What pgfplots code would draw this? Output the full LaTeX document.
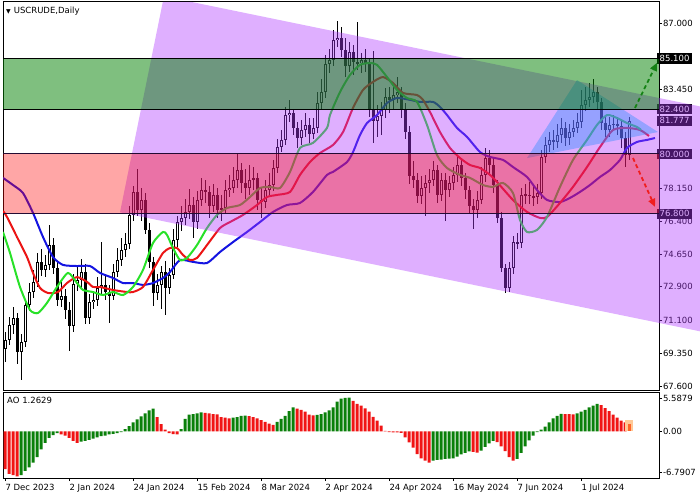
\documentclass[border=0pt]{standalone}
\usepackage{fontspec}
\setmainfont{DejaVu Sans}
\usepackage{pgfplots}
\usepackage{pgfplotstable}
\pgfplotsset{compat=1.18}
\usetikzlibrary{arrows.meta}
\definecolor{chan}{RGB}{175,55,255}
\definecolor{tri}{RGB}{40,140,255}
\definecolor{gbox}{RGB}{0,128,0}
\definecolor{rbox}{RGB}{255,0,0}
\definecolor{jawc}{RGB}{20,20,225}
\definecolor{teethc}{RGB}{235,20,20}
\definecolor{lipsc}{RGB}{40,225,40}
\definecolor{aogreen}{RGB}{10,128,10}
\definecolor{aored}{RGB}{240,20,20}
\definecolor{aoorange}{RGB}{255,100,40}
\definecolor{aohalo}{RGB}{255,200,150}
\definecolor{garrow}{RGB}{20,130,20}
\definecolor{rarrow}{RGB}{240,30,30}

\pgfplotstableread{
i o h l c
0 69.60 70.50 68.90 70.06
1 70.06 71.30 69.80 70.86
2 70.86 71.80 70.40 71.23
3 71.23 71.50 68.80 69.41
4 69.41 70.40 67.90 69.95
5 69.95 72.20 69.70 71.93
6 71.93 73.10 71.60 72.62
7 72.62 73.80 72.30 73.16
8 73.16 74.70 72.90 74.23
9 74.23 74.90 73.50 73.80
10 73.80 74.60 73.40 74.07
11 74.07 76.20 73.80 75.13
12 75.13 75.50 73.60 73.91
13 73.91 74.20 71.90 72.20
14 72.20 73.30 71.80 72.41
15 72.41 72.80 71.20 71.66
16 71.66 72.10 69.45 70.81
17 70.81 73.60 70.50 73.05
18 73.05 74.00 72.70 73.26
19 73.26 74.40 72.80 73.69
20 73.69 74.10 70.90 71.23
21 71.23 72.50 70.90 72.09
22 72.09 72.70 71.70 72.20
23 72.20 73.40 71.90 72.84
24 72.84 75.30 72.50 73.00
25 73.00 73.50 72.20 72.62
26 72.62 73.00 70.95 72.41
27 72.41 74.10 72.20 73.69
28 73.69 75.00 73.40 74.33
29 74.33 75.50 74.00 74.87
30 74.87 75.80 74.50 75.19
31 75.19 77.20 74.90 76.74
32 76.74 78.30 76.40 77.97
33 77.97 79.20 76.70 77.01
34 77.01 78.20 76.40 77.54
35 77.54 77.90 75.70 75.94
36 75.94 76.30 73.90 74.23
37 74.23 74.50 71.90 72.57
38 72.57 73.60 72.20 73.00
39 73.00 74.00 71.70 73.69
40 73.69 74.30 71.40 72.84
41 72.84 73.90 72.50 73.53
42 73.53 76.00 73.30 75.40
43 75.40 76.70 75.00 76.36
44 76.36 77.20 75.90 76.58
45 76.58 77.60 76.20 76.90
46 76.90 78.10 76.50 77.27
47 77.27 77.70 75.50 76.36
48 76.36 78.00 76.00 77.54
49 77.54 78.70 77.20 78.07
50 78.07 78.60 77.40 77.97
51 77.97 78.30 76.60 77.22
52 77.22 78.40 76.90 77.81
53 77.81 78.20 76.60 77.01
54 77.01 77.80 76.40 77.11
55 77.11 78.60 76.80 78.07
56 78.07 78.90 77.70 78.18
57 78.18 79.30 77.90 78.61
58 78.61 80.00 78.20 79.14
59 79.14 79.50 77.90 78.45
60 78.45 79.20 77.60 78.18
61 78.18 79.40 77.80 78.61
62 78.61 79.30 78.10 78.71
63 78.71 79.00 77.00 77.54
64 77.54 78.20 76.60 77.43
65 77.43 78.60 77.10 78.07
66 78.07 79.00 77.80 78.34
67 78.34 79.70 78.00 79.25
68 79.25 80.80 79.00 80.37
69 80.37 81.30 80.10 80.75
70 80.75 82.50 80.50 82.08
71 82.08 82.90 81.70 82.19
72 82.19 82.40 81.00 81.39
73 81.39 81.70 80.30 80.85
74 80.85 81.80 80.50 81.28
75 81.28 82.20 80.90 81.55
76 81.55 81.90 80.60 81.07
77 81.07 81.90 80.80 81.39
78 81.39 83.30 81.10 82.72
79 82.72 84.00 82.40 83.31
80 83.31 85.30 83.00 84.81
81 84.81 85.60 84.30 85.02
82 85.02 86.60 84.70 86.09
83 86.09 87.10 85.70 86.20
84 86.20 86.80 85.20 85.56
85 85.56 86.20 84.10 84.70
86 84.70 86.00 84.40 85.45
87 85.45 85.80 84.20 84.91
88 84.91 87.05 84.50 84.86
89 84.86 85.40 84.30 85.02
90 85.02 85.60 84.40 84.81
91 84.81 85.10 82.00 82.35
92 82.35 85.50 80.60 81.76
93 81.76 82.60 80.90 82.03
94 82.03 82.80 81.00 82.35
95 82.35 83.50 81.90 83.04
96 83.04 83.60 82.20 82.89
97 82.89 83.70 82.40 83.15
98 83.15 84.10 82.70 83.31
99 83.31 83.60 81.90 82.35
100 82.35 82.70 80.80 81.17
101 81.17 81.50 78.40 78.82
102 78.82 79.60 78.20 78.61
103 78.61 79.00 77.40 77.75
104 77.75 78.80 77.30 78.18
105 78.18 78.90 76.70 78.45
106 78.45 79.20 77.90 78.61
107 78.61 79.60 78.30 79.14
108 79.14 79.40 77.40 77.81
109 77.81 79.00 77.50 78.61
110 78.61 79.00 76.40 78.07
111 78.07 78.80 77.70 78.45
112 78.45 79.30 78.10 78.88
113 78.88 79.90 78.50 79.41
114 79.41 79.70 78.30 78.71
115 78.71 79.00 77.60 78.07
116 78.07 78.30 76.80 77.22
117 77.22 77.60 76.00 77.01
118 77.01 78.00 76.60 77.54
119 77.54 79.30 77.30 78.88
120 78.88 80.30 78.50 79.78
121 79.78 80.20 78.90 79.41
122 79.41 79.80 77.90 78.34
123 78.34 78.60 76.30 76.58
124 76.58 76.90 73.70 73.91
125 73.91 74.10 72.57 72.84
126 72.84 74.20 72.60 73.91
127 73.91 75.60 73.60 75.29
128 75.29 75.80 74.90 75.24
129 75.24 78.20 75.00 77.81
130 77.81 78.40 77.30 77.81
131 77.81 78.50 77.30 77.75
132 77.75 78.30 77.20 77.70
133 77.70 78.40 77.30 77.91
134 77.91 80.20 77.60 79.84
135 79.84 80.90 79.50 80.48
136 80.48 81.20 80.10 80.75
137 80.75 81.30 80.20 80.64
138 80.64 81.60 80.30 81.01
139 81.01 81.90 80.60 81.39
140 81.39 81.70 80.40 80.85
141 80.85 81.60 80.50 81.17
142 81.17 81.80 80.90 81.39
143 81.39 82.20 81.10 81.71
144 81.71 83.40 81.40 82.62
145 82.62 83.60 82.30 82.89
146 82.89 83.80 82.50 83.04
147 83.04 84.00 82.70 83.31
148 83.31 83.60 82.40 82.78
149 82.78 83.00 81.30 81.65
150 81.65 82.00 80.90 81.28
151 81.28 82.00 80.90 81.55
152 81.55 82.10 81.20 81.60
153 81.60 82.00 81.00 81.49
154 81.49 81.80 80.30 80.85
155 80.85 81.20 79.30 79.94
156 79.94 82.00 79.70 81.78
}\candles

\pgfplotstableread{
i v
-0.5 78.72
2 78.34
4.5 77.91
7 76.85
9.5 75.56
12 74.49
14.5 74.07
18 74.01
21.25 74.01
23.75 73.64
27 73.37
29.5 73.10
32 73.10
34.5 73.00
37 73.10
39.5 73.37
41.25 73.69
43.75 74.33
47 74.23
50.5 74.17
53.75 74.76
57 75.29
60.5 75.83
63.75 76.36
67 76.90
70.5 77.27
73.75 77.38
77 77.97
80.5 78.88
82 79.04
85.5 79.57
87 80.10
88.75 81.01
90.5 81.65
93 82.08
95.5 82.72
98 82.99
101.25 82.89
103.75 82.78
107 82.78
108.75 82.51
110.5 82.08
113 81.39
115.5 80.91
118.75 80.10
121.25 79.84
124.5 79.68
127 79.30
130.5 78.77
133 78.07
135.5 77.54
138.75 77.43
141.25 77.65
143.75 77.97
146.25 78.34
148.75 78.77
151.25 79.14
153.75 79.68
155.5 80.32
158 80.64
160.5 80.75
162.5 80.85
}\jaw

\pgfplotstableread{
i v
-0.5 76.95
0.5 76.63
3 75.56
5.5 74.49
7 73.64
8.75 72.84
10.75 72.57
13.25 72.62
15.5 73.10
18 73.42
20.5 73.16
22 72.89
23.75 72.89
27 72.73
30.5 72.62
32 72.62
34.5 72.89
37 73.80
39.5 74.71
41.25 74.97
43 74.97
44.5 74.60
46.25 74.33
48 74.44
50.5 75.13
53.75 76.04
56.25 76.36
59.5 76.74
63 77.27
65.5 77.70
68 77.81
71.25 77.97
73.75 78.88
76.25 79.57
78.75 80.05
82 80.48
84.5 81.17
87 82.46
89.5 83.42
92 83.85
94.5 84.11
97 83.79
99.5 83.26
103 83.15
104.5 82.89
106.25 82.24
108.75 81.17
111.25 80.32
113.75 79.78
116.25 79.41
118.75 79.25
121.25 78.88
123 78.50
127 77.54
130.5 76.90
133.75 76.58
135.5 76.63
138.75 77.38
142 78.24
145.5 79.30
148.75 80.37
152 81.28
155.5 81.39
158.75 81.28
161 80.96
}\teeth

\pgfplotstableread{
i v
-0.5 75.83
1.25 74.71
3.75 72.89
6.25 71.66
8.25 71.50
10.5 72.04
13 72.89
15.75 73.64
18 73.10
19.5 72.73
22 72.62
24.5 72.46
27 72.62
29.5 72.46
32 72.89
34.5 73.80
37 75.24
39.5 75.83
40.5 75.67
42 74.97
43.75 74.33
45.5 74.44
48 75.13
50.5 76.04
53 76.74
55.5 77.11
58.75 77.27
61.25 77.70
63.75 78.18
66.25 78.24
68.75 78.18
71.25 79.04
73.75 80.32
77 80.59
80.5 81.39
81.25 82.08
83.75 83.31
86.25 84.22
88.75 84.76
91.25 84.86
93 84.76
95.5 84.11
98 83.42
100.5 82.99
103 82.78
105.5 81.55
108 79.94
110.5 79.25
113.75 78.88
116.25 78.72
119.5 78.34
122 78.24
124.5 78.45
127 77.91
128.75 76.47
130.5 75.83
133 75.94
135.5 76.63
138.75 78.24
142 79.68
145.5 80.75
148 81.55
150.5 82.08
153 81.92
155.5 81.65
158 81.44
159 81.28
}\lips

\pgfplotstableread{
i v
4 -7.3
5 -6.6
6 -6.0
7 -5.2
8 -4.3
9 -3.0
10 -1.9
11 -1.1
12 -0.6
13 -0.3
19 -1.7
20 -1.6
21 -1.4
22 -1.2
23 -1.0
24 -0.8
25 -0.7
26 -0.5
27 -0.4
28 -0.3
29 -0.1
30 0.4
31 0.9
32 1.5
33 2.0
34 2.5
35 3.0
36 3.5
37 3.8
44 0.4
45 2.1
46 2.8
47 2.9
48 3.0
49 3.2
57 2.3
58 2.4
59 2.6
60 2.65
68 1.6
69 2.1
70 2.6
71 3.4
72 4.0
78 2.75
79 2.9
80 3.2
81 3.5
82 4.0
83 5.0
84 5.5
85 5.6
86 5.65
107 -4.9
108 -4.75
109 -4.7
110 -4.6
111 -4.55
112 -4.5
113 -4.2
114 -3.85
115 -3.6
116 -3.35
119 -3.2
120 -2.6
121 -2.0
122 -1.6
128 -4.6
129 -3.6
130 -2.5
131 -1.5
132 -0.7
133 -0.1
134 0.3
135 0.8
136 1.5
137 2.2
138 2.6
139 2.95
143 3.0
144 3.3
145 3.6
146 4.0
147 4.3
148 4.6
}\aog

\pgfplotstableread{
i v
0 -6.3
1 -7.1
2 -7.3
3 -7.5
14 -0.5
15 -0.7
16 -1.1
17 -1.6
18 -1.9
38 2.4
39 1.2
40 0.3
41 -0.3
42 -0.45
43 -0.5
50 3.1
51 3.0
52 2.9
53 2.85
54 2.4
55 2.3
56 2.2
61 2.55
62 2.4
63 2.2
64 1.9
65 1.6
66 1.3
67 1.1
73 3.8
74 3.6
75 3.3
76 2.8
77 2.7
87 5.1
88 4.6
89 4.3
90 3.85
91 3.3
92 2.45
93 1.8
94 0.95
95 0.1
96 -0.12
97 -0.15
98 -0.18
99 -0.25
100 -1.0
101 -1.85
102 -2.7
103 -3.8
104 -4.5
105 -4.9
106 -5.2
117 -3.4
118 -3.55
123 -1.8
124 -2.5
125 -3.3
126 -4.3
127 -4.9
140 2.9
141 2.88
142 2.86
149 4.4
150 3.9
151 3.4
152 2.8
153 2.3
154 1.8
155 1.5
}\aor

\pgfplotsset{
  mt/.style={scale only axis, xmin=-0.5, xmax=163.5,
    axis line style={black, line width=1pt},
    tick style={black, line width=0.8pt}, tick align=outside, major tick length=3pt,
    ticklabel style={font=\fontsize{8.5}{10}\selectfont},
    ytick pos=right, yticklabel pos=right,
    yticklabel style={anchor=west, xshift=-2.5pt},
  },
  ov/.style={scale only axis, xmin=-0.5, xmax=163.5, ymin=67.384, ymax=88.12,
    at={(3pt,-390pt)}, anchor=south west, width=656pt, height=388pt},
}

\begin{document}
\begin{tikzpicture}
\path[use as bounding box] (0pt,0pt) rectangle (700pt,-500pt);

% ---------- main price panel ----------
\begin{axis}[mt, ov, xtick=\empty,
  ytick={67.6,69.35,71.1,72.9,74.65,76.4,78.15,83.45,87},
  yticklabels={67.600,69.350,71.100,72.900,74.650,76.400,78.150,83.450,87.000},
  extra y ticks={85.1,82.4,81.777,80,76.8},
  extra y tick labels={85.100,82.400,81.777,80.000,76.800},
  extra y tick style={major tick length=0pt,
     yticklabel style={fill=black, text=white, inner xsep=3pt, inner ysep=1.8pt, anchor=west, xshift=0pt}},
]
% wicks
\addplot[draw=none, mark=none, forget plot,
  error bars/.cd, y dir=both, y explicit, error mark=none,
  error bar style={draw=black, line width=1pt}]
  table[x=i, y expr={(\thisrow{h}+\thisrow{l})/2}, y error expr={(\thisrow{h}-\thisrow{l})/2}] {\candles};
% bodies
\addplot[draw=none, mark=none, forget plot,
  error bars/.cd, y dir=both, y explicit, error mark=none,
  error bar style={draw=black, line width=3pt}]
  table[x=i, y expr={(\thisrow{o}+\thisrow{c})/2}, y error expr={max(abs(\thisrow{c}-\thisrow{o})/2,0.03)}] {\candles};
% hollow bull bodies
\addplot[draw=none, mark=none, forget plot,
  error bars/.cd, y dir=both, y explicit, error mark=none,
  error bar style={draw=white, line width=1pt}]
  table[x=i, y expr={(\thisrow{o}+\thisrow{c})/2}, y error expr={max((\thisrow{c}-\thisrow{o})/2-0.053,0)}] {\candles};
% alligator lines
\addplot[jawc, line width=2pt, smooth, tension=0.4, mark=none] table[x=i,y=v] {\jaw};
\addplot[teethc, line width=2pt, smooth, tension=0.4, mark=none] table[x=i,y=v] {\teeth};
\addplot[lipsc, line width=2pt, smooth, tension=0.4, mark=none] table[x=i,y=v] {\lips};
\end{axis}

% ---------- overlay objects ----------
\begin{axis}[ov, hide axis, clip=false]
\addplot[fill=chan, fill opacity=0.4, draw=none] coordinates
  {(28.75,76.88) (39.45,88.12) (46.68,88.12) (173.75,82.54) (173.75,70.52)} -- cycle;
\addplot[fill=tri, fill opacity=0.4, draw=none] coordinates
  {(130.5,79.78) (143,83.95) (163.25,81.17)} -- cycle;
\addplot[fill=rbox, fill opacity=0.35, draw=none] coordinates
  {(-0.5,76.8) (163.5,76.8) (163.5,80) (-0.5,80)} -- cycle;
\addplot[fill=gbox, fill opacity=0.5, draw=none] coordinates
  {(-0.5,82.4) (163.5,82.4) (163.5,85.1) (-0.5,85.1)} -- cycle;
\addplot[black, line width=1pt] coordinates {(-0.5,85.1) (163.5,85.1)};
\addplot[black, line width=1pt] coordinates {(-0.5,82.4) (163.5,82.4)};
\addplot[black!80!chan, line width=1pt] coordinates {(-0.5,80) (163.5,80)};
\addplot[black!80!chan, line width=1pt] coordinates {(-0.5,76.8) (163.5,76.8)};
\addplot[garrow, line width=1.8pt, dash pattern=on 4pt off 3pt, -{Triangle[length=8pt,width=7pt]}]
  coordinates {(157.5,82.46) (163,84.87)};
\addplot[rarrow, line width=1.8pt, dash pattern=on 4pt off 3pt, -{Triangle[length=8pt,width=7pt]}]
  coordinates {(157,79.78) (162.5,77.17)};
\end{axis}

% ---------- AO panel ----------
\begin{axis}[mt, at={(3pt,-478pt)}, anchor=south west, width=656pt, height=86pt,
  ymin=-7.79, ymax=6.59,
  ytick={-6.7907,0,5.5879}, yticklabels={-6.7907,0.00,5.5879},
  xtick={0,16,32,48,64,80,96,112,128,144},
  xticklabels={7 Dec 2023,2 Jan 2024,24 Jan 2024,15 Feb 2024,8 Mar 2024,2 Apr 2024,24 Apr 2024,16 May 2024,7 Jun 2024,1 Jul 2024},
  xtick pos=bottom, xticklabel style={anchor=north west, xshift=-3pt},
]
\addplot[ybar, bar width=3pt, bar shift=0pt, fill=aogreen, draw=none] table[x=i,y=v] {\aog};
\addplot[ybar, bar width=3pt, bar shift=0pt, fill=aored, draw=none] table[x=i,y=v] {\aor};
\addplot[ybar, bar width=8pt, bar shift=0pt, fill=aohalo, draw=none] coordinates {(156,1.9)};
\addplot[ybar, bar width=3pt, bar shift=0pt, fill=aoorange, draw=none] coordinates {(156,1.2629)};
\end{axis}

\node[anchor=west, font=\fontsize{8.5}{10}\selectfont, inner sep=0pt] at (6pt,-11pt) {{\fontsize{6}{7}\selectfont ▼}\hspace{3pt}USCRUDE,Daily};
\node[anchor=west, font=\fontsize{8.5}{10}\selectfont, inner sep=0pt] at (7pt,-400pt) {AO 1.2629};
\end{tikzpicture}
\end{document}
